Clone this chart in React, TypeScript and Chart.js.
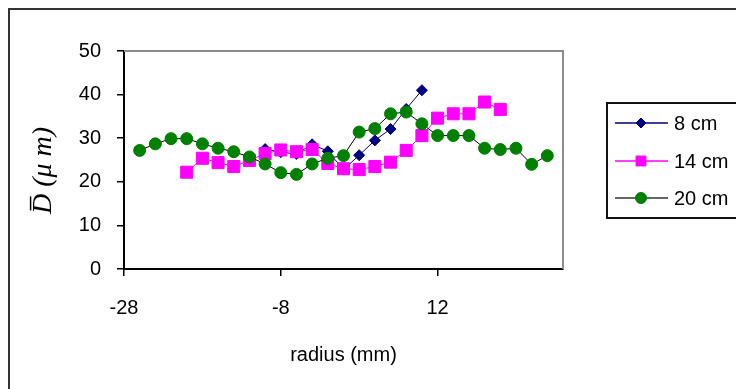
import React, { useEffect, useRef } from 'react';
import { Chart, registerables } from 'chart.js';
import { drawPoint } from 'chart.js/helpers';

Chart.register(...registerables);

const seriesNames = ['8 cm', '14 cm', '20 cm'];

const radius8 = [-10, -8, -6, -4, -2, 0, 2, 4, 6, 8, 10];
const dbar8 = [27.5, 26.8, 26.4, 28.6, 27.0, 22.8, 26.1, 29.5, 32.1, 36.7, 41.0];

const radius14 = [-20, -18, -16, -14, -12, -10, -8, -6, -4, -2, 0, 2, 4, 6, 8, 10, 12, 14, 16, 18, 20];
const dbar14 = [22.2, 25.4, 24.4, 23.5, 24.9, 26.5, 27.3, 26.9, 27.4, 24.2, 23.0, 22.8, 23.5, 24.5, 27.2, 30.6, 34.6, 35.6, 35.6, 38.3, 36.6];

const radius20 = [-26, -24, -22, -20, -18, -16, -14, -12, -10, -8, -6, -4, -2, 0, 2, 4, 6, 8, 10, 12, 14, 16, 18, 20, 22, 24, 26];
const dbar20 = [27.2, 28.7, 29.9, 29.9, 28.7, 27.7, 26.9, 25.7, 24.1, 22.1, 21.7, 24.1, 25.4, 26.0, 31.4, 32.2, 35.6, 36.0, 33.3, 30.6, 30.6, 30.6, 27.7, 27.4, 27.7, 24.0, 26.0];

const xTicks = [-28, -8, 12];
const yTicks = [0, 10, 20, 30, 40, 50];

const xTitle = 'radius (mm)';
const yTitle = 'D\u0305 (\u03bc m)   ';

const FONT = "'Liberation Sans', Arial, sans-serif";

const pts = (xs: number[], ys: number[]) => xs.map((x, i) => ({ x, y: ys[i] }));

const framePlugin = {
  id: 'frameAndLegend',
  beforeDraw(chart: any) {
    const { ctx } = chart;
    ctx.save();
    ctx.fillStyle = '#ffffff';
    ctx.fillRect(0, 0, chart.width, chart.height);
    ctx.strokeStyle = '#333333';
    ctx.lineWidth = 2;
    ctx.strokeRect(9, 9, chart.width + 20, chart.height + 20);
    ctx.restore();
  },
  beforeDatasetsDraw(chart: any) {
    const { ctx, chartArea } = chart;
    ctx.save();
    ctx.strokeStyle = '#8c8c8c';
    ctx.lineWidth = 2;
    ctx.beginPath();
    ctx.moveTo(chartArea.left, chartArea.top);
    ctx.lineTo(chartArea.right, chartArea.top);
    ctx.lineTo(chartArea.right, chartArea.bottom);
    ctx.stroke();
    ctx.restore();
  },
  afterDraw(chart: any) {
    const { ctx } = chart;
    const boxL = 607, boxT = 103, boxB = 218;
    ctx.save();
    ctx.strokeStyle = '#111111';
    ctx.lineWidth = 2;
    ctx.strokeRect(boxL, boxT, 200, boxB - boxT);
    const rowY = [123, 161, 198];
    chart.data.datasets.forEach((ds: any, i: number) => {
      const y = rowY[i];
      ctx.strokeStyle = ds.legendLineColor || ds.borderColor;
      ctx.lineWidth = 1.5;
      ctx.beginPath();
      ctx.moveTo(615, y);
      ctx.lineTo(668, y);
      ctx.stroke();
      ctx.fillStyle = ds.pointBackgroundColor;
      ctx.strokeStyle = ds.pointBorderColor;
      ctx.lineWidth = 1;
      drawPoint(ctx, { pointStyle: ds.pointStyle, rotation: 0, borderWidth: 1, radius: ds.legendRadius }, 641, y);
      ctx.fillStyle = '#000000';
      ctx.font = `20px ${FONT}`;
      ctx.textAlign = 'left';
      ctx.textBaseline = 'middle';
      ctx.fillText(ds.label, 674, y + 1);
    });
    ctx.restore();
  },
};

export default function App() {
  const ref = useRef<HTMLCanvasElement>(null);
  useEffect(() => {
    const chart = new Chart(ref.current as HTMLCanvasElement, {
      type: 'line',
      data: {
        datasets: [
          {
            label: seriesNames[0],
            data: pts(radius8, dbar8),
            borderColor: '#000080',
            borderWidth: 1,
            pointStyle: 'rectRot',
            pointRadius: 5.5,
            pointBackgroundColor: '#000080',
            pointBorderColor: '#000080',
            pointBorderWidth: 1,
            order: 3,
            legendRadius: 5,
          } as any,
          {
            label: seriesNames[1],
            data: pts(radius14, dbar14),
            borderColor: '#ff00ff',
            borderWidth: 1,
            pointStyle: 'rect',
            pointRadius: 8.5,
            pointBackgroundColor: '#ff00ff',
            pointBorderColor: '#ff00ff',
            pointBorderWidth: 1,
            order: 2,
            legendRadius: 7,
          } as any,
          {
            label: seriesNames[2],
            data: pts(radius20, dbar20),
            borderColor: '#000000',
            legendLineColor: '#333333',
            borderWidth: 1,
            pointStyle: 'circle',
            pointRadius: 6,
            pointBackgroundColor: '#008000',
            pointBorderColor: '#008000',
            pointBorderWidth: 1,
            order: 1,
            legendRadius: 5.5,
          } as any,
        ],
      },
      options: {
        animation: false,
        responsive: false,
        devicePixelRatio: 1,
        layout: { padding: { left: 0, top: 51, right: 173, bottom: 0 } },
        plugins: { legend: { display: false }, tooltip: { enabled: false }, title: { display: false } },
        elements: { line: { tension: 0 } },
        scales: {
          x: {
            type: 'linear',
            min: -28,
            max: 28,
            afterBuildTicks: (s: any) => { s.ticks = xTicks.map((v) => ({ value: v })); },
            afterFit: (s: any) => { s.height = 120; },
            grid: { drawOnChartArea: false, drawTicks: true, tickLength: 7, color: '#000', lineWidth: 1.5 },
            border: { color: '#000', width: 2 },
            ticks: { color: '#000', font: { family: FONT, size: 20 }, padding: 20, maxRotation: 0, autoSkip: false },
            title: { display: true, text: xTitle, color: '#000', font: { family: FONT, size: 20 }, padding: { top: 0, bottom: 22 } },
          },
          y: {
            type: 'linear',
            min: 0,
            max: 50,
            afterBuildTicks: (s: any) => { s.ticks = yTicks.map((v) => ({ value: v })); },
            afterFit: (s: any) => { s.width = 124; },
            grid: { drawOnChartArea: false, drawTicks: true, tickLength: 7, color: '#000', lineWidth: 1.5 },
            border: { color: '#000', width: 2 },
            ticks: { color: '#000', font: { family: FONT, size: 20 }, padding: 16 },
            title: { display: true, text: yTitle, color: '#000', font: { family: "'Liberation Serif', 'DejaVu Serif', serif", size: 28, style: 'italic' }, padding: { top: 27, bottom: 0 } },
          },
        },
      },
      plugins: [framePlugin],
    });
    return () => chart.destroy();
  }, []);
  return (
    <div style={{ position: 'fixed', left: 0, top: 0, width: 736, height: 389, background: '#fff', overflow: 'hidden' }}>
      <canvas ref={ref} width={736} height={389} style={{ display: 'block' }} />
    </div>
  );
}
